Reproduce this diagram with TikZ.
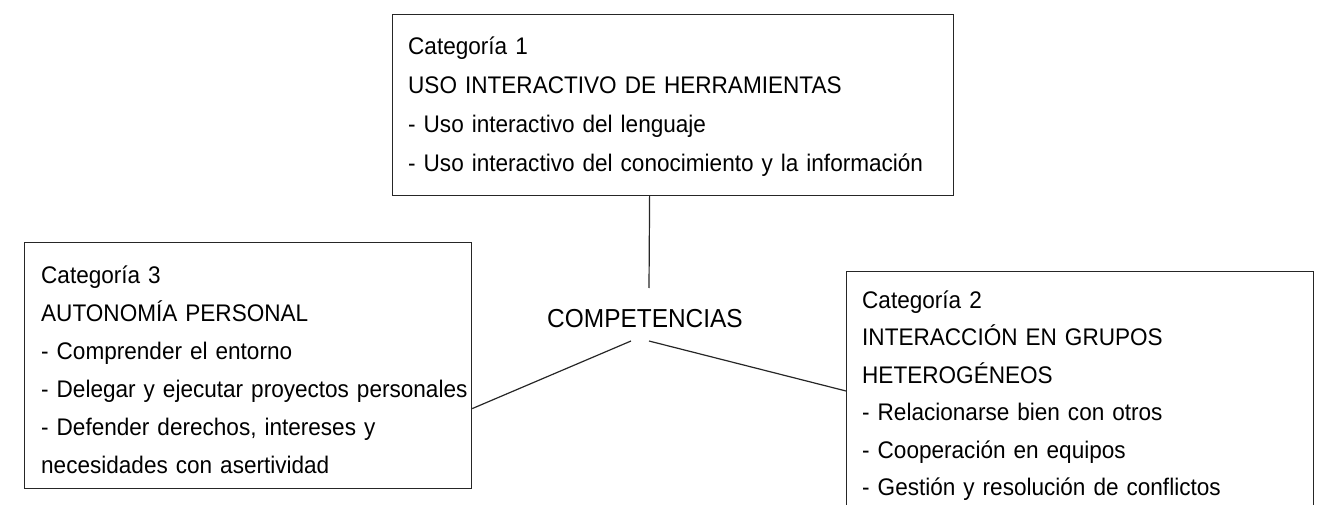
\documentclass[tikz,border=0pt]{standalone}
\usepackage{fontspec}
\setmainfont{Liberation Sans}[FakeStretch=0.94]

\tikzset{
    catbox/.style={draw=black!85, line width=1.2pt, anchor=north west, inner sep=0pt},
    cattext/.style={anchor=base west, align=left, inner sep=0pt, text width=#1},
    link/.style={draw=black!85, line width=1.2pt}
}

\begin{document}
\begin{tikzpicture}[x=1pt, y=-1pt]
        % Setup the page
        \useasboundingbox (0,0) rectangle (1325,505);
        \clip (0,0) rectangle (1325,505);

        % Category 1
        \node[catbox, minimum width=561pt, minimum height=181pt] (cat1) at (392,14) {};
        \node[cattext=700pt, font=\fontsize{24}{39}\selectfont] (cat1txt) at (408,55)
            {Categoría 1\\USO INTERACTIVO DE HERRAMIENTAS\\- Uso interactivo del lenguaje\\- Uso interactivo del conocimiento y la información};

        % Category 3
        \node[catbox, minimum width=447pt, minimum height=246pt] (cat3) at (24,242) {};
        \node[cattext=700pt, font=\fontsize{24}{38}\selectfont] (cat3txt) at (41,283)
            {Categoría 3\\AUTONOMÍA PERSONAL\\- Comprender el entorno\\- Delegar y ejecutar proyectos personales\\- Defender derechos, intereses y\\necesidades con asertividad};

        % Category 2
        \node[catbox, minimum width=467pt, minimum height=260pt] (cat2) at (846,271) {};
        \node[cattext=700pt, font=\fontsize{24}{37.5}\selectfont] (cat2txt) at (862,308)
            {Categoría 2\\INTERACCIÓN EN GRUPOS\\HETEROGÉNEOS\\- Relacionarse bien con otros\\- Cooperación en equipos\\- Gestión y resolución de conflictos};

        % Centre
        \node[anchor=base, inner sep=0pt, font=\fontsize{26}{30}\selectfont] (comp) at (645,327) {COMPETENCIAS};

        % Links
        \draw[link] ([xshift=-23.5pt]cat1.south) -- ([shift={(4,-39)}]comp.base);
        \draw[link] ([shift={(-14,14)}]comp.base) -- ([yshift=-43pt]cat3.east);
        \draw[link] ([shift={(4,14)}]comp.base) -- ([yshift=-120pt]cat2.north west);

    \end{tikzpicture}
\end{document}
